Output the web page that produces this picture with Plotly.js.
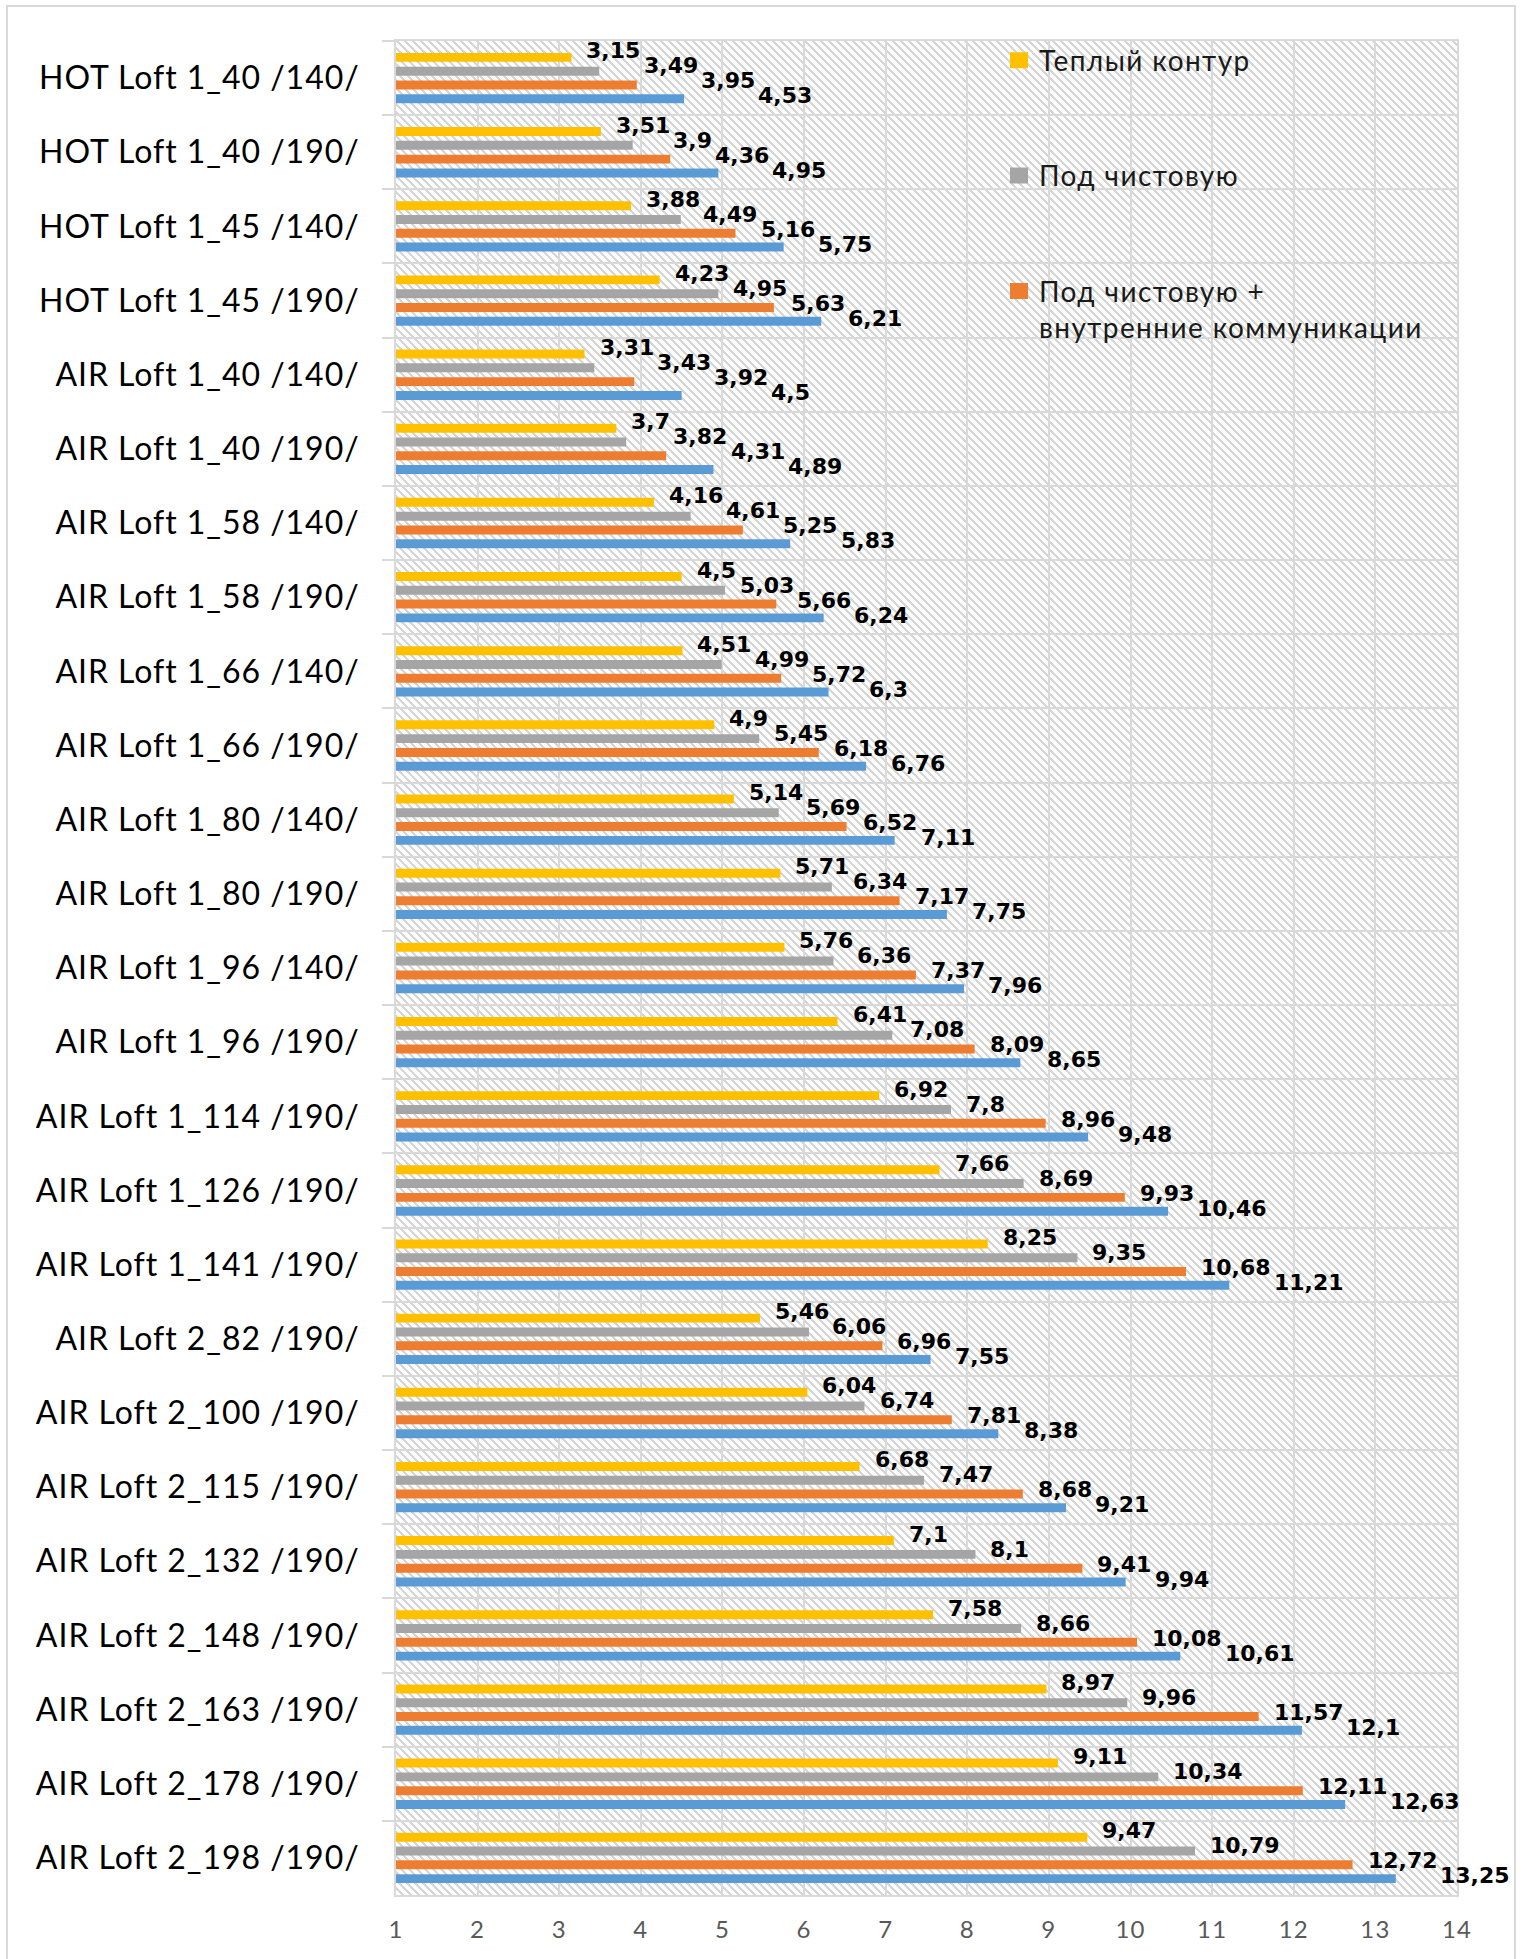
<!DOCTYPE html>
<html><head><meta charset="utf-8">
<script src="https://cdn.plot.ly/plotly-3.0.1.min.js"></script>
<style>
html,body{margin:0;padding:0;background:#fff;}
#chart{width:1521px;height:1959px;}
.ytick text{letter-spacing:0.03em;}
.xtick text{letter-spacing:0.05em;}
.legendtext{letter-spacing:0.05em;}
.annotation-text{font-family:"DejaVu Sans" !important; font-weight:700 !important;}
</style></head><body><div id="chart"></div>
<script>
const categories = [
  'HOT Loft 1_40 /140/','HOT Loft 1_40 /190/','HOT Loft 1_45 /140/','HOT Loft 1_45 /190/',
  'AIR Loft 1_40 /140/','AIR Loft 1_40 /190/','AIR Loft 1_58 /140/','AIR Loft 1_58 /190/',
  'AIR Loft 1_66 /140/','AIR Loft 1_66 /190/','AIR Loft 1_80 /140/','AIR Loft 1_80 /190/',
  'AIR Loft 1_96 /140/','AIR Loft 1_96 /190/','AIR Loft 1_114 /190/','AIR Loft 1_126 /190/',
  'AIR Loft 1_141 /190/','AIR Loft 2_82 /190/','AIR Loft 2_100 /190/','AIR Loft 2_115 /190/',
  'AIR Loft 2_132 /190/','AIR Loft 2_148 /190/','AIR Loft 2_163 /190/','AIR Loft 2_178 /190/',
  'AIR Loft 2_198 /190/'
];
const warmContour = [3.15,3.51,3.88,4.23,3.31,3.7,4.16,4.5,4.51,4.9,5.14,5.71,5.76,6.41,6.92,7.66,8.25,5.46,6.04,6.68,7.1,7.58,8.97,9.11,9.47];
const finishing = [3.49,3.9,4.49,4.95,3.43,3.82,4.61,5.03,4.99,5.45,5.69,6.34,6.36,7.08,7.8,8.69,9.35,6.06,6.74,7.47,8.1,8.66,9.96,10.34,10.79];
const finishingComm = [3.95,4.36,5.16,5.63,3.92,4.31,5.25,5.66,5.72,6.18,6.52,7.17,7.37,8.09,8.96,9.93,10.68,6.96,7.81,8.68,9.41,10.08,11.57,12.11,12.72];
const fourthSeries = [4.53,4.95,5.75,6.21,4.5,4.89,5.83,6.24,6.3,6.76,7.11,7.75,7.96,8.65,9.48,10.46,11.21,7.55,8.38,9.21,9.94,10.61,12.1,12.63,13.25];
const seriesNames = ['Теплый контур','Под чистовую','Под чистовую +<br>внутренние коммуникации','Ряд 4'];
const xTickVals = [1,2,3,4,5,6,7,8,9,10,11,12,13,14];

const W=1521, H=1959, M={l:396,r:64,t:41,b:64};
const plotW=W-M.l-M.r, plotH=H-M.t-M.b;
const xMin=1, xMax=14;
const pxPerUnit=plotW/(xMax-xMin);
const FAM='Lato, Noto Sans, sans-serif';
const colors=['#FFC000','#A5A5A5','#ED7D31','#5B9BD5'];
const series=[warmContour, finishing, finishingComm, fourthSeries];

const traces = series.map((vals,i)=>({
  type:'bar', orientation:'h', x:vals, y:categories, name:seriesNames[i],
  marker:{color:colors[i]}, showlegend:i<3, legendgroup:'g'+i, hoverinfo:'skip'
}));

function hatch(w,h){
  const c=document.createElement('canvas'); c.width=w; c.height=h;
  const ctx=c.getContext('2d'); ctx.fillStyle='#fff'; ctx.fillRect(0,0,w,h);
  const img=ctx.getImageData(0,0,w,h); const d=img.data;
  for(let y=0;y<h;y++) for(let x=0;x<w;x++){
    if((((x-y)%8)+8)%8<3){const k=(y*w+x)*4; d[k]=d[k+1]=d[k+2]=0xd6;}
  }
  ctx.putImageData(img,0,0); return c.toDataURL('image/png');
}

const LS=22;
const labelFont={family:'DejaVu Sans', size:LS, color:'#000', weight:700};
const mctx=document.createElement('canvas').getContext('2d');
mctx.font='bold '+LS+'px "DejaVu Sans"';
const annotations=[];
categories.forEach((cat,j)=>{
  let prevRight=-Infinity;
  series.forEach((vals,i)=>{
    const v=vals[j]; const txt=String(v).replace('.',',');
    const barEnd=(v-xMin)*pxPerUnit;
    const w=mctx.measureText(txt).width;
    const left=Math.max(barEnd+14, prevRight+3);
    prevRight=left+w;
    annotations.push({xref:'x', yref:'y', x:v, y:cat, text:txt, showarrow:false,
      xanchor:'left', yanchor:'middle', xshift:left-barEnd, yshift:-(i-1.5)*15+4.7,
      font:labelFont, borderpad:0});
  });
});

const layout={
  width:W, height:H, margin:M, paper_bgcolor:'#fff', plot_bgcolor:'rgba(0,0,0,0)',
  barmode:'group', bargap:0.256, bargroupgap:0.35,
  showlegend:true,
  legend:{x:(999-M.l)/plotW, xanchor:'left', y:1.003, yanchor:'top', traceorder:'grouped',
    tracegroupgap:76, font:{family:FAM, size:28, color:'#1a1a1a'}, bgcolor:'rgba(0,0,0,0)', valign:'top'},
  xaxis:{range:[xMin,xMax], tickvals:xTickVals, ticktext:xTickVals.map(String), showgrid:true, gridcolor:'#d9d9d9', gridwidth:2,
    zeroline:false, showline:true, linecolor:'#d9d9d9', linewidth:2, mirror:true, ticks:'',
    tickfont:{family:FAM, size:24, color:'#595959'}, ticklabelstandoff:12, fixedrange:true},
  yaxis:{type:'category', range:[categories.length-0.5,-0.5], tickson:'boundaries', ticks:'outside', ticklen:12,
    tickwidth:2, tickcolor:'#d9d9d9', showgrid:true, gridcolor:'#d9d9d9', gridwidth:2,
    showline:true, linecolor:'#d9d9d9', linewidth:2, mirror:true,
    tickfont:{family:FAM, size:32, color:'#000'}, ticklabelstandoff:28, fixedrange:true},
  images:[{source:hatch(Math.round(plotW),Math.round(plotH)), xref:'paper', yref:'paper', x:0, y:1, sizex:1, sizey:1,
    sizing:'stretch', xanchor:'left', yanchor:'top', layer:'below'}],
  shapes:[{type:'rect', xref:'paper', yref:'paper', x0:(7-M.l)/plotW, x1:(1515-M.l)/plotW,
    y0:(M.t+plotH-1966)/plotH, y1:(M.t+plotH-6)/plotH, line:{color:'#d9d9d9', width:2}, layer:'below'}],
  annotations:annotations
};
function bigLegendIcons(){
  document.querySelectorAll('#chart .legendpoints path').forEach(p=>{p.setAttribute('d','M9,8H-9V-8H9Z');});
}
Plotly.newPlot('chart', traces, layout, {displayModeBar:false, staticPlot:true}).then(()=>{
  bigLegendIcons();
  requestAnimationFrame(bigLegendIcons);
});
</script></body></html>
